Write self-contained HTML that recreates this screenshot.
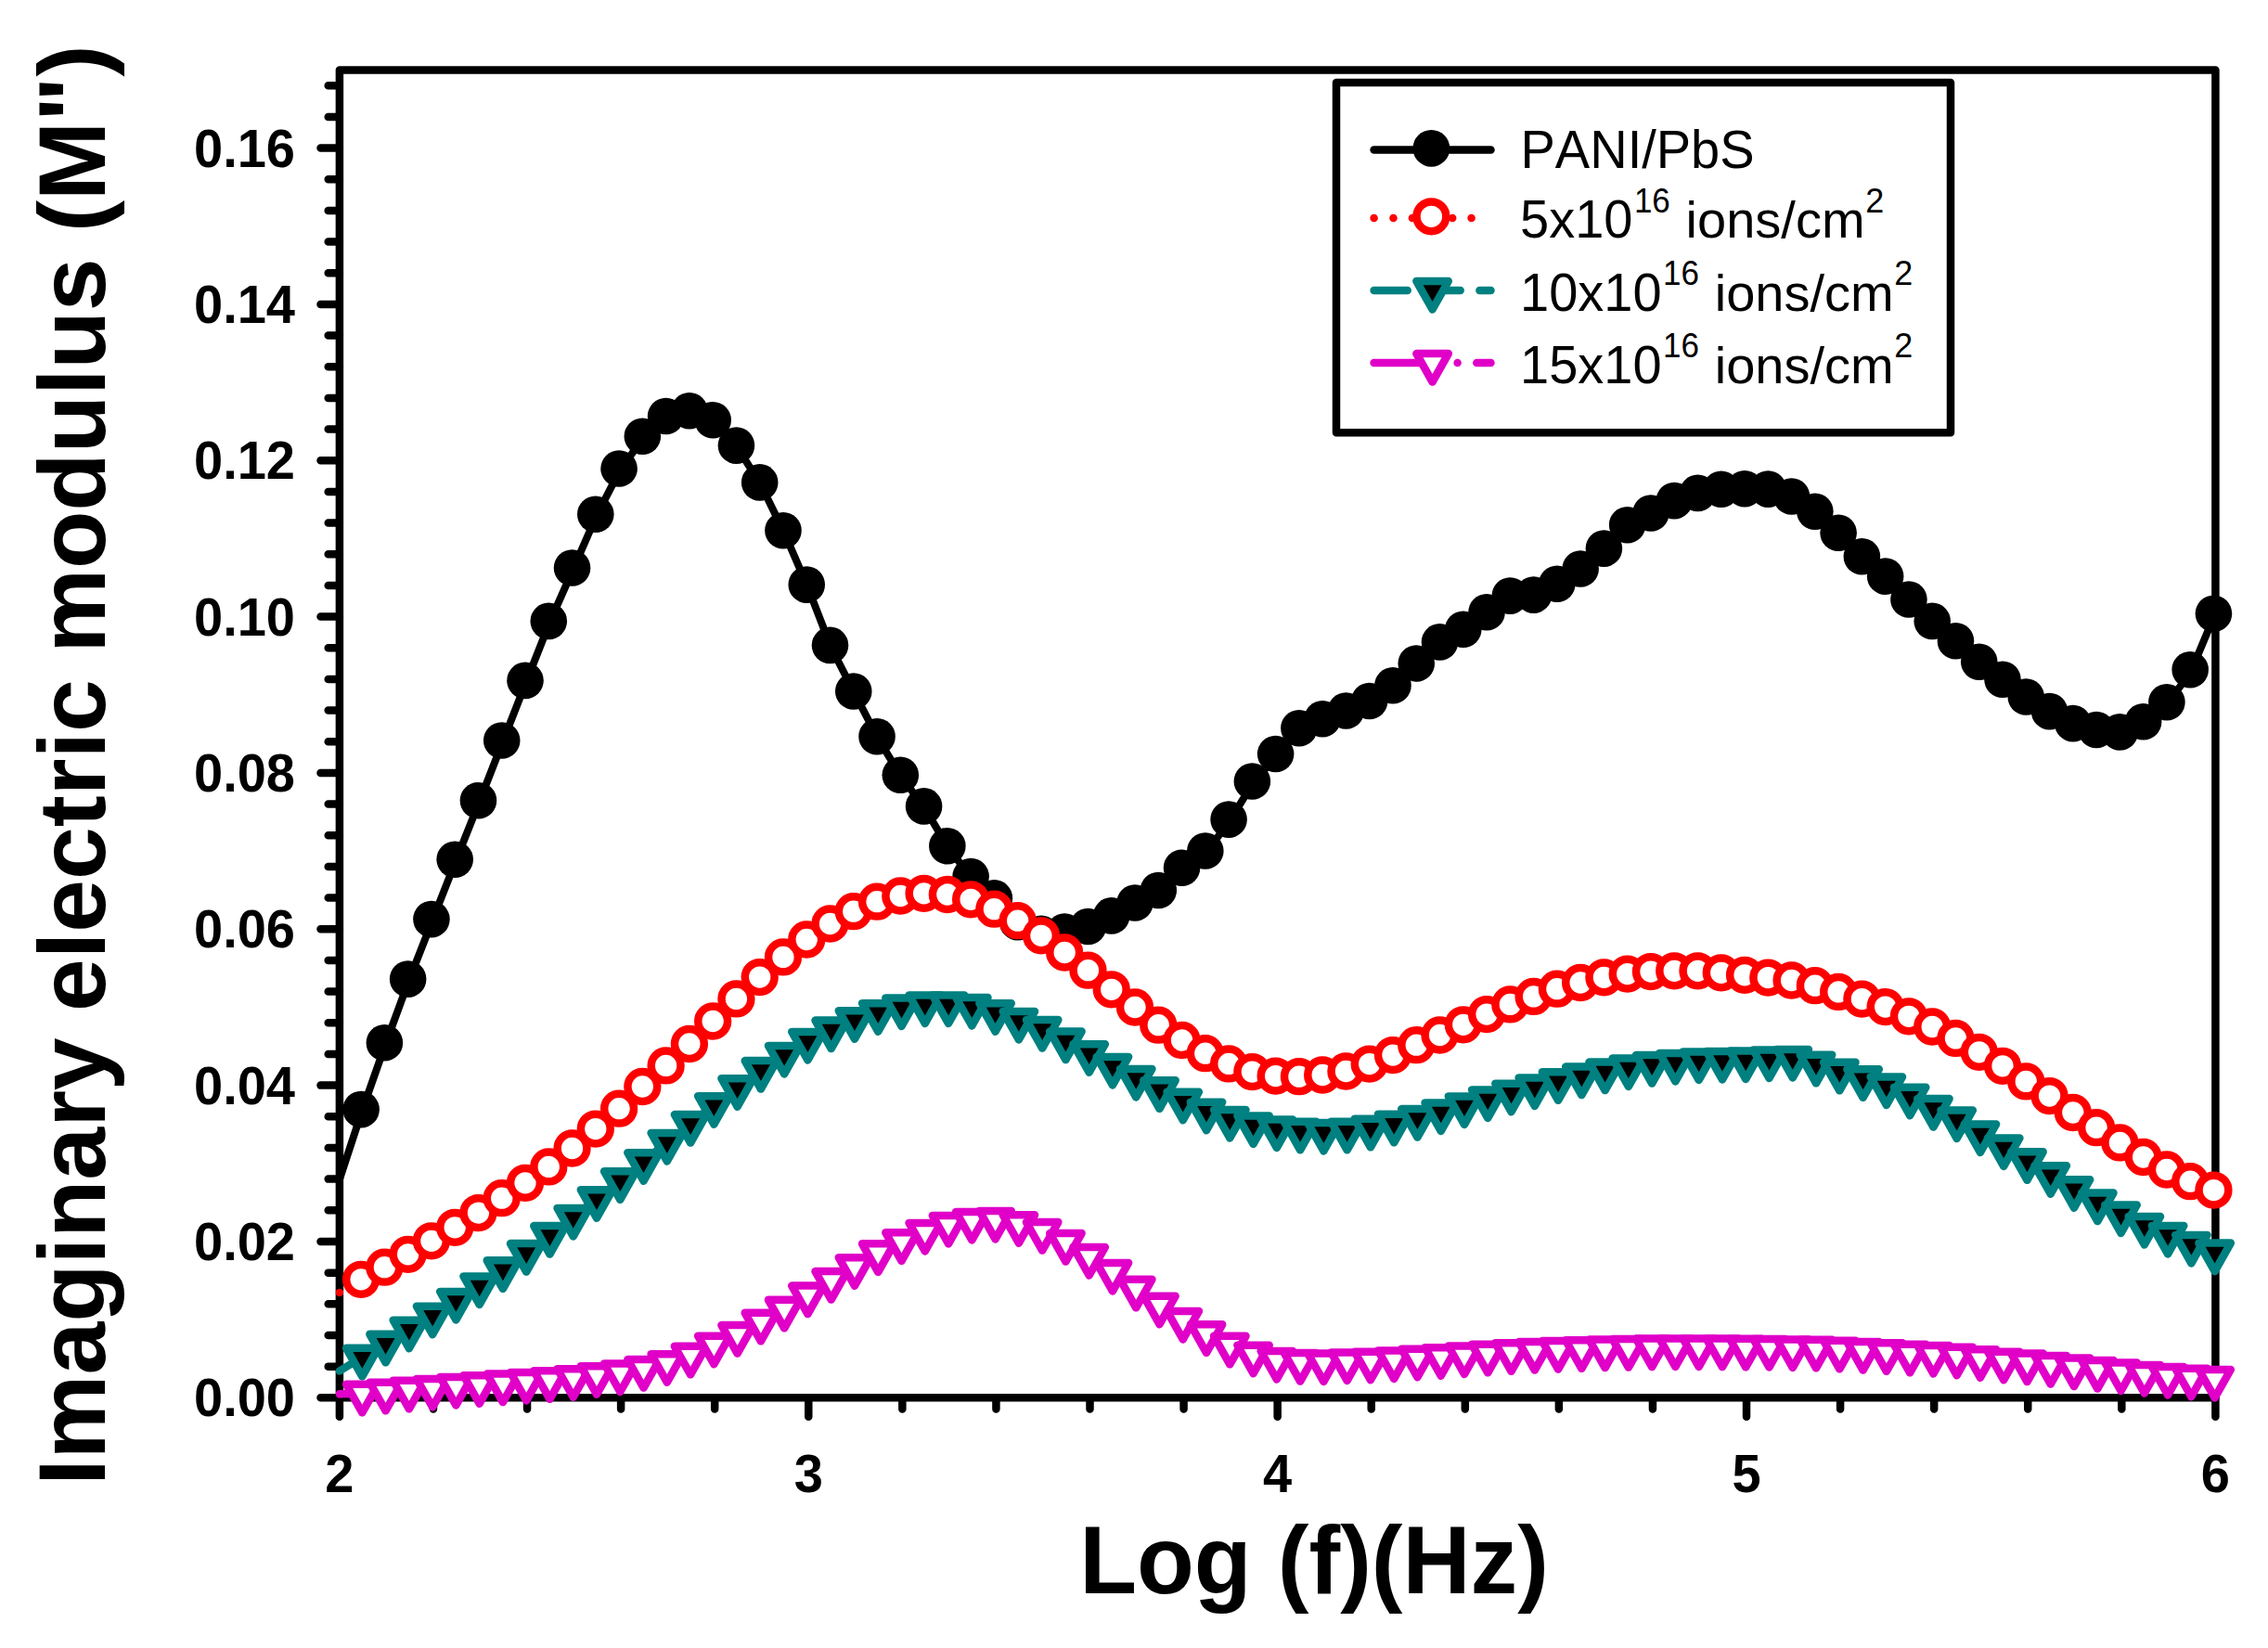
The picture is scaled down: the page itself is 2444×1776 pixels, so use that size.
<!DOCTYPE html>
<html lang="en"><head><meta charset="utf-8"><title>Imaginary electric modulus vs Log (f)</title>
<style>html,body{margin:0;padding:0;background:#fff}svg{display:block}text{font-family:"Liberation Sans",Arial,sans-serif;fill:#000;font-kerning:none}</style>
</head><body>
<svg width="2444" height="1776" viewBox="0 0 2444 1776">
<rect width="2444" height="1776" fill="#fff"/>
<g fill="none" stroke="#000" stroke-width="8.5" stroke-linecap="round" stroke-linejoin="round">
<rect x="365.9" y="75.4" width="2021.5" height="1430.9"/>
<path d="M365.9 1506.3h-20.4M365.9 1472.63h-12.2M365.9 1438.96h-12.2M365.9 1405.3h-12.2M365.9 1371.63h-12.2M365.9 1337.96h-20.4M365.9 1304.29h-12.2M365.9 1270.62h-12.2M365.9 1236.95h-12.2M365.9 1203.29h-12.2M365.9 1169.62h-20.4M365.9 1135.95h-12.2M365.9 1102.28h-12.2M365.9 1068.61h-12.2M365.9 1034.94h-12.2M365.9 1001.28h-20.4M365.9 967.61h-12.2M365.9 933.94h-12.2M365.9 900.27h-12.2M365.9 866.6h-12.2M365.9 832.94h-20.4M365.9 799.27h-12.2M365.9 765.6h-12.2M365.9 731.93h-12.2M365.9 698.26h-12.2M365.9 664.59h-20.4M365.9 630.93h-12.2M365.9 597.26h-12.2M365.9 563.59h-12.2M365.9 529.92h-12.2M365.9 496.25h-20.4M365.9 462.58h-12.2M365.9 428.92h-12.2M365.9 395.25h-12.2M365.9 361.58h-12.2M365.9 327.91h-20.4M365.9 294.24h-12.2M365.9 260.58h-12.2M365.9 226.91h-12.2M365.9 193.24h-12.2M365.9 159.57h-20.4M365.9 125.9h-12.2M365.9 92.23h-12.2M365.9 1506.3v20.4M466.98 1506.3v12.2M568.05 1506.3v12.2M669.12 1506.3v12.2M770.2 1506.3v12.2M871.27 1506.3v20.4M972.35 1506.3v12.2M1073.43 1506.3v12.2M1174.5 1506.3v12.2M1275.57 1506.3v12.2M1376.65 1506.3v20.4M1477.72 1506.3v12.2M1578.8 1506.3v12.2M1679.88 1506.3v12.2M1780.95 1506.3v12.2M1882.03 1506.3v20.4M1983.1 1506.3v12.2M2084.18 1506.3v12.2M2185.25 1506.3v12.2M2286.33 1506.3v12.2M2387.4 1506.3v20.4"/>
</g>
<g font-size="56" font-weight="bold">
<text transform="translate(318 1526.3) scale(1 1.04)" text-anchor="end">0.00</text>
<text transform="translate(318 1357.96) scale(1 1.04)" text-anchor="end">0.02</text>
<text transform="translate(318 1189.62) scale(1 1.04)" text-anchor="end">0.04</text>
<text transform="translate(318 1021.28) scale(1 1.04)" text-anchor="end">0.06</text>
<text transform="translate(318 852.94) scale(1 1.04)" text-anchor="end">0.08</text>
<text transform="translate(318 684.59) scale(1 1.04)" text-anchor="end">0.10</text>
<text transform="translate(318 516.25) scale(1 1.04)" text-anchor="end">0.12</text>
<text transform="translate(318 347.91) scale(1 1.04)" text-anchor="end">0.14</text>
<text transform="translate(318 179.57) scale(1 1.04)" text-anchor="end">0.16</text>
<text transform="translate(365.9 1607.7) scale(1 1.04)" text-anchor="middle">2</text>
<text transform="translate(871.27 1607.7) scale(1 1.04)" text-anchor="middle">3</text>
<text transform="translate(1376.65 1607.7) scale(1 1.04)" text-anchor="middle">4</text>
<text transform="translate(1882.03 1607.7) scale(1 1.04)" text-anchor="middle">5</text>
<text transform="translate(2387.4 1607.7) scale(1 1.04)" text-anchor="middle">6</text>
</g>
<g font-size="102" font-weight="bold">
<text font-size="101.2" transform="translate(1163.2 1717.2) scale(1 1.02)">Log (f)(Hz)</text>
<text font-size="102.15" transform="translate(113.4 1600.8) rotate(-90) scale(1 0.995)">Imaginary electric modulus (M&quot;)</text>
</g>
<path d="M365.9 1271L390 1197.4L415.27 1125.6L440.54 1056.9L465.81 992.4L491.08 928L516.35 864.5L541.62 799.8L566.89 735.2L592.16 671.2L617.43 613.8L642.7 556L667.97 506.8L693.24 472L718.51 450.3L743.78 444.6L769.05 454.5L794.32 481.9L819.59 521.7L844.86 573.5L870.13 631.9L895.4 697.2L920.67 746.8L945.94 795.5L971.21 837.1L996.48 870.7L1021.75 913.5L1047.02 946.3L1072.29 969.7L1097.56 995.4L1122.83 1008.2L1148.1 1005.9L1173.37 1000.3L1198.64 988.7L1223.91 974.8L1249.18 961.3L1274.45 937L1299.72 918.8L1324.99 884.9L1350.26 843.8L1375.53 814.3L1400.8 786.5L1426.07 776.5L1451.34 767.8L1476.61 757.3L1501.88 740.5L1527.15 716.8L1552.42 693.7L1577.69 680L1602.96 661.6L1628.23 643.9L1653.5 642.9L1678.77 631L1704.04 614.8L1729.31 592.9L1754.58 567.5L1779.85 554.8L1805.12 541.4L1830.39 533.2L1855.66 529L1880.93 528.5L1906.2 528.9L1931.47 536.8L1956.74 553L1982.01 576.1L2007.28 601.5L2032.55 622.9L2057.82 647.8L2083.09 671.2L2108.36 692.6L2133.63 715L2158.9 734.1L2184.17 752.8L2209.44 768.4L2234.71 781.4L2259.98 788.3L2285.25 790.7L2310.52 779.5L2335.79 758.5L2361.06 723.5L2386.33 663.1" fill="none" stroke="#000" stroke-width="8.0" stroke-linecap="round" stroke-linejoin="round"/>
<g fill="#000">
<circle cx="389.1" cy="1195.6" r="19.8"/>
<circle cx="414.37" cy="1123.8" r="19.8"/>
<circle cx="439.64" cy="1055.1" r="19.8"/>
<circle cx="464.91" cy="990.6" r="19.8"/>
<circle cx="490.18" cy="926.2" r="19.8"/>
<circle cx="515.45" cy="862.7" r="19.8"/>
<circle cx="540.72" cy="798" r="19.8"/>
<circle cx="565.99" cy="733.4" r="19.8"/>
<circle cx="591.26" cy="669.4" r="19.8"/>
<circle cx="616.53" cy="612" r="19.8"/>
<circle cx="641.8" cy="554.2" r="19.8"/>
<circle cx="667.07" cy="505" r="19.8"/>
<circle cx="692.34" cy="470.2" r="19.8"/>
<circle cx="717.61" cy="448.5" r="19.8"/>
<circle cx="742.88" cy="442.8" r="19.8"/>
<circle cx="768.15" cy="452.7" r="19.8"/>
<circle cx="793.42" cy="480.1" r="19.8"/>
<circle cx="818.69" cy="519.9" r="19.8"/>
<circle cx="843.96" cy="571.7" r="19.8"/>
<circle cx="869.23" cy="630.1" r="19.8"/>
<circle cx="894.5" cy="695.4" r="19.8"/>
<circle cx="919.77" cy="745" r="19.8"/>
<circle cx="945.04" cy="793.7" r="19.8"/>
<circle cx="970.31" cy="835.3" r="19.8"/>
<circle cx="995.58" cy="868.9" r="19.8"/>
<circle cx="1020.85" cy="911.7" r="19.8"/>
<circle cx="1046.12" cy="944.5" r="19.8"/>
<circle cx="1071.39" cy="967.9" r="19.8"/>
<circle cx="1096.66" cy="993.6" r="19.8"/>
<circle cx="1121.93" cy="1006.4" r="19.8"/>
<circle cx="1147.2" cy="1004.1" r="19.8"/>
<circle cx="1172.47" cy="998.5" r="19.8"/>
<circle cx="1197.74" cy="986.9" r="19.8"/>
<circle cx="1223.01" cy="973" r="19.8"/>
<circle cx="1248.28" cy="959.5" r="19.8"/>
<circle cx="1273.55" cy="935.2" r="19.8"/>
<circle cx="1298.82" cy="917" r="19.8"/>
<circle cx="1324.09" cy="883.1" r="19.8"/>
<circle cx="1349.36" cy="842" r="19.8"/>
<circle cx="1374.63" cy="812.5" r="19.8"/>
<circle cx="1399.9" cy="784.7" r="19.8"/>
<circle cx="1425.17" cy="774.7" r="19.8"/>
<circle cx="1450.44" cy="766" r="19.8"/>
<circle cx="1475.71" cy="755.5" r="19.8"/>
<circle cx="1500.98" cy="738.7" r="19.8"/>
<circle cx="1526.25" cy="715" r="19.8"/>
<circle cx="1551.52" cy="691.9" r="19.8"/>
<circle cx="1576.79" cy="678.2" r="19.8"/>
<circle cx="1602.06" cy="659.8" r="19.8"/>
<circle cx="1627.33" cy="642.1" r="19.8"/>
<circle cx="1652.6" cy="641.1" r="19.8"/>
<circle cx="1677.87" cy="629.2" r="19.8"/>
<circle cx="1703.14" cy="613" r="19.8"/>
<circle cx="1728.41" cy="591.1" r="19.8"/>
<circle cx="1753.68" cy="565.7" r="19.8"/>
<circle cx="1778.95" cy="553" r="19.8"/>
<circle cx="1804.22" cy="539.6" r="19.8"/>
<circle cx="1829.49" cy="531.4" r="19.8"/>
<circle cx="1854.76" cy="527.2" r="19.8"/>
<circle cx="1880.03" cy="526.7" r="19.8"/>
<circle cx="1905.3" cy="527.1" r="19.8"/>
<circle cx="1930.57" cy="535" r="19.8"/>
<circle cx="1955.84" cy="551.2" r="19.8"/>
<circle cx="1981.11" cy="574.3" r="19.8"/>
<circle cx="2006.38" cy="599.7" r="19.8"/>
<circle cx="2031.65" cy="621.1" r="19.8"/>
<circle cx="2056.92" cy="646" r="19.8"/>
<circle cx="2082.19" cy="669.4" r="19.8"/>
<circle cx="2107.46" cy="690.8" r="19.8"/>
<circle cx="2132.73" cy="713.2" r="19.8"/>
<circle cx="2158" cy="732.3" r="19.8"/>
<circle cx="2183.27" cy="751" r="19.8"/>
<circle cx="2208.54" cy="766.6" r="19.8"/>
<circle cx="2233.81" cy="779.6" r="19.8"/>
<circle cx="2259.08" cy="786.5" r="19.8"/>
<circle cx="2284.35" cy="788.9" r="19.8"/>
<circle cx="2309.62" cy="777.7" r="19.8"/>
<circle cx="2334.89" cy="756.7" r="19.8"/>
<circle cx="2360.16" cy="721.7" r="19.8"/>
<circle cx="2385.43" cy="661.3" r="19.8"/>
</g>
<path d="M365.9 1393L390 1380.6L415.27 1367.5L440.54 1353.6L465.81 1339.1L491.08 1324.6L516.35 1308.9L541.62 1293L566.89 1276.6L592.16 1259.2L617.43 1239.3L642.7 1218.4L667.97 1196.5L693.24 1172.8L718.51 1150.2L743.78 1126.8L769.05 1102.3L794.32 1078.2L819.59 1054.9L844.86 1033.2L870.13 1014.3L895.4 997.3L920.67 984L945.94 973.5L971.21 967.3L996.48 964.6L1021.75 965.8L1047.02 971.1L1072.29 981.5L1097.56 994L1122.83 1010.1L1148.1 1028.3L1173.37 1047.5L1198.64 1068.1L1223.91 1087.3L1249.18 1106.5L1274.45 1122.8L1299.72 1137L1324.99 1148.2L1350.26 1156.9L1375.53 1161.4L1400.8 1162L1426.07 1160.3L1451.34 1156.3L1476.61 1148.4L1501.88 1138.9L1527.15 1128L1552.42 1117.3L1577.69 1106.1L1602.96 1094.9L1628.23 1084.2L1653.5 1075.7L1678.77 1067.5L1704.04 1060.8L1729.31 1055.1L1754.58 1051.4L1779.85 1048.9L1805.12 1048.1L1830.39 1048.1L1855.66 1050.1L1880.93 1052.6L1906.2 1055.4L1931.47 1058.3L1956.74 1064L1982.01 1070.7L2007.28 1078.4L2032.55 1086.9L2057.82 1097.1L2083.09 1108.3L2108.36 1120.7L2133.63 1135.6L2158.9 1150.6L2184.17 1167.2L2209.44 1182.9L2234.71 1200.8L2259.98 1217L2285.25 1233.2L2310.52 1248.8L2335.79 1262.3L2361.06 1275L2386.33 1284.4" fill="none" stroke="#ff0000" stroke-width="8.5" stroke-linecap="round" stroke-linejoin="round" stroke-dasharray="0.01 20.7"/>
<g fill="#fff" stroke="#ff0000" stroke-width="8.5">
<circle cx="389.1" cy="1378.8" r="15.9"/>
<circle cx="414.37" cy="1365.7" r="15.9"/>
<circle cx="439.64" cy="1351.8" r="15.9"/>
<circle cx="464.91" cy="1337.3" r="15.9"/>
<circle cx="490.18" cy="1322.8" r="15.9"/>
<circle cx="515.45" cy="1307.1" r="15.9"/>
<circle cx="540.72" cy="1291.2" r="15.9"/>
<circle cx="565.99" cy="1274.8" r="15.9"/>
<circle cx="591.26" cy="1257.4" r="15.9"/>
<circle cx="616.53" cy="1237.5" r="15.9"/>
<circle cx="641.8" cy="1216.6" r="15.9"/>
<circle cx="667.07" cy="1194.7" r="15.9"/>
<circle cx="692.34" cy="1171" r="15.9"/>
<circle cx="717.61" cy="1148.4" r="15.9"/>
<circle cx="742.88" cy="1125" r="15.9"/>
<circle cx="768.15" cy="1100.5" r="15.9"/>
<circle cx="793.42" cy="1076.4" r="15.9"/>
<circle cx="818.69" cy="1053.1" r="15.9"/>
<circle cx="843.96" cy="1031.4" r="15.9"/>
<circle cx="869.23" cy="1012.5" r="15.9"/>
<circle cx="894.5" cy="995.5" r="15.9"/>
<circle cx="919.77" cy="982.2" r="15.9"/>
<circle cx="945.04" cy="971.7" r="15.9"/>
<circle cx="970.31" cy="965.5" r="15.9"/>
<circle cx="995.58" cy="962.8" r="15.9"/>
<circle cx="1020.85" cy="964" r="15.9"/>
<circle cx="1046.12" cy="969.3" r="15.9"/>
<circle cx="1071.39" cy="979.7" r="15.9"/>
<circle cx="1096.66" cy="992.2" r="15.9"/>
<circle cx="1121.93" cy="1008.3" r="15.9"/>
<circle cx="1147.2" cy="1026.5" r="15.9"/>
<circle cx="1172.47" cy="1045.7" r="15.9"/>
<circle cx="1197.74" cy="1066.3" r="15.9"/>
<circle cx="1223.01" cy="1085.5" r="15.9"/>
<circle cx="1248.28" cy="1104.7" r="15.9"/>
<circle cx="1273.55" cy="1121" r="15.9"/>
<circle cx="1298.82" cy="1135.2" r="15.9"/>
<circle cx="1324.09" cy="1146.4" r="15.9"/>
<circle cx="1349.36" cy="1155.1" r="15.9"/>
<circle cx="1374.63" cy="1159.6" r="15.9"/>
<circle cx="1399.9" cy="1160.2" r="15.9"/>
<circle cx="1425.17" cy="1158.5" r="15.9"/>
<circle cx="1450.44" cy="1154.5" r="15.9"/>
<circle cx="1475.71" cy="1146.6" r="15.9"/>
<circle cx="1500.98" cy="1137.1" r="15.9"/>
<circle cx="1526.25" cy="1126.2" r="15.9"/>
<circle cx="1551.52" cy="1115.5" r="15.9"/>
<circle cx="1576.79" cy="1104.3" r="15.9"/>
<circle cx="1602.06" cy="1093.1" r="15.9"/>
<circle cx="1627.33" cy="1082.4" r="15.9"/>
<circle cx="1652.6" cy="1073.9" r="15.9"/>
<circle cx="1677.87" cy="1065.7" r="15.9"/>
<circle cx="1703.14" cy="1059" r="15.9"/>
<circle cx="1728.41" cy="1053.3" r="15.9"/>
<circle cx="1753.68" cy="1049.6" r="15.9"/>
<circle cx="1778.95" cy="1047.1" r="15.9"/>
<circle cx="1804.22" cy="1046.3" r="15.9"/>
<circle cx="1829.49" cy="1046.3" r="15.9"/>
<circle cx="1854.76" cy="1048.3" r="15.9"/>
<circle cx="1880.03" cy="1050.8" r="15.9"/>
<circle cx="1905.3" cy="1053.6" r="15.9"/>
<circle cx="1930.57" cy="1056.5" r="15.9"/>
<circle cx="1955.84" cy="1062.2" r="15.9"/>
<circle cx="1981.11" cy="1068.9" r="15.9"/>
<circle cx="2006.38" cy="1076.6" r="15.9"/>
<circle cx="2031.65" cy="1085.1" r="15.9"/>
<circle cx="2056.92" cy="1095.3" r="15.9"/>
<circle cx="2082.19" cy="1106.5" r="15.9"/>
<circle cx="2107.46" cy="1118.9" r="15.9"/>
<circle cx="2132.73" cy="1133.8" r="15.9"/>
<circle cx="2158" cy="1148.8" r="15.9"/>
<circle cx="2183.27" cy="1165.4" r="15.9"/>
<circle cx="2208.54" cy="1181.1" r="15.9"/>
<circle cx="2233.81" cy="1199" r="15.9"/>
<circle cx="2259.08" cy="1215.2" r="15.9"/>
<circle cx="2284.35" cy="1231.4" r="15.9"/>
<circle cx="2309.62" cy="1247" r="15.9"/>
<circle cx="2334.89" cy="1260.5" r="15.9"/>
<circle cx="2360.16" cy="1273.2" r="15.9"/>
<circle cx="2385.43" cy="1282.6" r="15.9"/>
</g>
<path d="M365.9 1477.5L390 1462.7L415.27 1447.7L440.54 1432.6L465.81 1417.6L491.08 1401.8L516.35 1385.3L541.62 1368.2L566.89 1350L592.16 1331L617.43 1311.8L642.7 1292.1L667.97 1272.2L693.24 1252.1L718.51 1230.9L743.78 1211L769.05 1191.1L794.32 1172.1L819.59 1153L844.86 1136.8L870.13 1121.9L895.4 1109.5L920.67 1099.1L945.94 1091.1L971.21 1085.4L996.48 1082.4L1021.75 1082.4L1047.02 1084.9L1072.29 1091.1L1097.56 1099.8L1122.83 1109L1148.1 1121.5L1173.37 1135.1L1198.64 1148.8L1223.91 1161.8L1249.18 1174.2L1274.45 1186.6L1299.72 1197.6L1324.99 1205.9L1350.26 1212.3L1375.53 1216.3L1400.8 1218.7L1426.07 1219.9L1451.34 1218.7L1476.61 1215.7L1501.88 1210.7L1527.15 1205L1552.42 1198.3L1577.69 1191.3L1602.96 1184.3L1628.23 1177.6L1653.5 1171.4L1678.77 1165.2L1704.04 1159.5L1729.31 1154.5L1754.58 1150.3L1779.85 1147L1805.12 1144.8L1830.39 1143.3L1855.66 1142.8L1880.93 1142.3L1906.2 1141.4L1931.47 1140.8L1956.74 1146.7L1982.01 1154.7L2007.28 1162.2L2032.55 1170.4L2057.82 1181.6L2083.09 1194L2108.36 1206.4L2133.63 1221.4L2158.9 1236.3L2184.17 1251.2L2209.44 1266.1L2234.71 1281.1L2259.98 1295.5L2285.25 1308.4L2310.52 1320.9L2335.79 1330.8L2361.06 1340.8L2386.33 1349.5" fill="none" stroke="#008080" stroke-width="8.5" stroke-linecap="round" stroke-linejoin="round" stroke-dasharray="35.3 22.4"/>
<g fill="#000" stroke="#008080" stroke-width="8.5" stroke-linejoin="round">
<path d="M373.1 1452.8h34.4L390.3 1483.3z"/>
<path d="M398.37 1437.8h34.4L415.57 1468.3z"/>
<path d="M423.64 1422.7h34.4L440.84 1453.2z"/>
<path d="M448.91 1407.7h34.4L466.11 1438.2z"/>
<path d="M474.18 1391.9h34.4L491.38 1422.4z"/>
<path d="M499.45 1375.4h34.4L516.65 1405.9z"/>
<path d="M524.72 1358.3h34.4L541.92 1388.8z"/>
<path d="M549.99 1340.1h34.4L567.19 1370.6z"/>
<path d="M575.26 1321.1h34.4L592.46 1351.6z"/>
<path d="M600.53 1301.9h34.4L617.73 1332.4z"/>
<path d="M625.8 1282.2h34.4L643 1312.7z"/>
<path d="M651.07 1262.3h34.4L668.27 1292.8z"/>
<path d="M676.34 1242.2h34.4L693.54 1272.7z"/>
<path d="M701.61 1221h34.4L718.81 1251.5z"/>
<path d="M726.88 1201.1h34.4L744.08 1231.6z"/>
<path d="M752.15 1181.2h34.4L769.35 1211.7z"/>
<path d="M777.42 1162.2h34.4L794.62 1192.7z"/>
<path d="M802.69 1143.1h34.4L819.89 1173.6z"/>
<path d="M827.96 1126.9h34.4L845.16 1157.4z"/>
<path d="M853.23 1112h34.4L870.43 1142.5z"/>
<path d="M878.5 1099.6h34.4L895.7 1130.1z"/>
<path d="M903.77 1089.2h34.4L920.97 1119.7z"/>
<path d="M929.04 1081.2h34.4L946.24 1111.7z"/>
<path d="M954.31 1075.5h34.4L971.51 1106z"/>
<path d="M979.58 1072.5h34.4L996.78 1103z"/>
<path d="M1004.85 1072.5h34.4L1022.05 1103z"/>
<path d="M1030.12 1075h34.4L1047.32 1105.5z"/>
<path d="M1055.39 1081.2h34.4L1072.59 1111.7z"/>
<path d="M1080.66 1089.9h34.4L1097.86 1120.4z"/>
<path d="M1105.93 1099.1h34.4L1123.13 1129.6z"/>
<path d="M1131.2 1111.6h34.4L1148.4 1142.1z"/>
<path d="M1156.47 1125.2h34.4L1173.67 1155.7z"/>
<path d="M1181.74 1138.9h34.4L1198.94 1169.4z"/>
<path d="M1207.01 1151.9h34.4L1224.21 1182.4z"/>
<path d="M1232.28 1164.3h34.4L1249.48 1194.8z"/>
<path d="M1257.55 1176.7h34.4L1274.75 1207.2z"/>
<path d="M1282.82 1187.7h34.4L1300.02 1218.2z"/>
<path d="M1308.09 1196h34.4L1325.29 1226.5z"/>
<path d="M1333.36 1202.4h34.4L1350.56 1232.9z"/>
<path d="M1358.63 1206.4h34.4L1375.83 1236.9z"/>
<path d="M1383.9 1208.8h34.4L1401.1 1239.3z"/>
<path d="M1409.17 1210h34.4L1426.37 1240.5z"/>
<path d="M1434.44 1208.8h34.4L1451.64 1239.3z"/>
<path d="M1459.71 1205.8h34.4L1476.91 1236.3z"/>
<path d="M1484.98 1200.8h34.4L1502.18 1231.3z"/>
<path d="M1510.25 1195.1h34.4L1527.45 1225.6z"/>
<path d="M1535.52 1188.4h34.4L1552.72 1218.9z"/>
<path d="M1560.79 1181.4h34.4L1577.99 1211.9z"/>
<path d="M1586.06 1174.4h34.4L1603.26 1204.9z"/>
<path d="M1611.33 1167.7h34.4L1628.53 1198.2z"/>
<path d="M1636.6 1161.5h34.4L1653.8 1192z"/>
<path d="M1661.87 1155.3h34.4L1679.07 1185.8z"/>
<path d="M1687.14 1149.6h34.4L1704.34 1180.1z"/>
<path d="M1712.41 1144.6h34.4L1729.61 1175.1z"/>
<path d="M1737.68 1140.4h34.4L1754.88 1170.9z"/>
<path d="M1762.95 1137.1h34.4L1780.15 1167.6z"/>
<path d="M1788.22 1134.9h34.4L1805.42 1165.4z"/>
<path d="M1813.49 1133.4h34.4L1830.69 1163.9z"/>
<path d="M1838.76 1132.9h34.4L1855.96 1163.4z"/>
<path d="M1864.03 1132.4h34.4L1881.23 1162.9z"/>
<path d="M1889.3 1131.5h34.4L1906.5 1162z"/>
<path d="M1914.57 1130.9h34.4L1931.77 1161.4z"/>
<path d="M1939.84 1136.8h34.4L1957.04 1167.3z"/>
<path d="M1965.11 1144.8h34.4L1982.31 1175.3z"/>
<path d="M1990.38 1152.3h34.4L2007.58 1182.8z"/>
<path d="M2015.65 1160.5h34.4L2032.85 1191z"/>
<path d="M2040.92 1171.7h34.4L2058.12 1202.2z"/>
<path d="M2066.19 1184.1h34.4L2083.39 1214.6z"/>
<path d="M2091.46 1196.5h34.4L2108.66 1227z"/>
<path d="M2116.73 1211.5h34.4L2133.93 1242z"/>
<path d="M2142 1226.4h34.4L2159.2 1256.9z"/>
<path d="M2167.27 1241.3h34.4L2184.47 1271.8z"/>
<path d="M2192.54 1256.2h34.4L2209.74 1286.7z"/>
<path d="M2217.81 1271.2h34.4L2235.01 1301.7z"/>
<path d="M2243.08 1285.6h34.4L2260.28 1316.1z"/>
<path d="M2268.35 1298.5h34.4L2285.55 1329z"/>
<path d="M2293.62 1311h34.4L2310.82 1341.5z"/>
<path d="M2318.89 1320.9h34.4L2336.09 1351.4z"/>
<path d="M2344.16 1330.9h34.4L2361.36 1361.4z"/>
<path d="M2369.43 1339.6h34.4L2386.63 1370.1z"/>
</g>
<path d="M365.9 1502.3L390 1501.7L415.27 1499.7L440.54 1497.7L465.81 1495.8L491.08 1493.8L516.35 1492.1L541.62 1490.5L566.89 1488.8L592.16 1487.2L617.43 1485.1L642.7 1482.1L667.97 1479.4L693.24 1475L718.51 1469.1L743.78 1460.7L769.05 1449.6L794.32 1438L819.59 1424.7L844.86 1410.7L870.13 1395.5L895.4 1380L920.67 1365.1L945.94 1350.2L971.21 1338.2L996.48 1327.8L1021.75 1319.8L1047.02 1315.8L1072.29 1314.8L1097.56 1319.1L1122.83 1327L1148.1 1339L1173.37 1353.9L1198.64 1370.8L1223.91 1388.7L1249.18 1406.6L1274.45 1422.8L1299.72 1437.2L1324.99 1449.7L1350.26 1459.6L1375.53 1465.9L1400.8 1468L1426.07 1468.3L1451.34 1467.3L1476.61 1466.6L1501.88 1465.3L1527.15 1463.6L1552.42 1462.1L1577.69 1460.4L1602.96 1458.7L1628.23 1457.2L1653.5 1456L1678.77 1455L1704.04 1454.2L1729.31 1453.5L1754.58 1453L1779.85 1452.5L1805.12 1452.3L1830.39 1452.3L1855.66 1452.5L1880.93 1452.7L1906.2 1452.8L1931.47 1453.3L1956.74 1453.7L1982.01 1454.7L2007.28 1456L2032.55 1457.2L2057.82 1458.7L2083.09 1459.9L2108.36 1461.6L2133.63 1464.1L2158.9 1466.6L2184.17 1468.5L2209.44 1471L2234.71 1473.5L2259.98 1476L2285.25 1478.4L2310.52 1480.9L2335.79 1482.9L2361.06 1484.6L2386.33 1485.8" fill="none" stroke="#e000c8" stroke-width="8.5" stroke-linecap="round" stroke-linejoin="round" stroke-dasharray="35.3 22.4 0.01 22.4"/>
<g fill="#fff" stroke="#e000c8" stroke-width="8.5" stroke-linejoin="round">
<path d="M373.1 1491.8h34.4L390.3 1522.3z"/>
<path d="M398.37 1489.8h34.4L415.57 1520.3z"/>
<path d="M423.64 1487.8h34.4L440.84 1518.3z"/>
<path d="M448.91 1485.9h34.4L466.11 1516.4z"/>
<path d="M474.18 1483.9h34.4L491.38 1514.4z"/>
<path d="M499.45 1482.2h34.4L516.65 1512.7z"/>
<path d="M524.72 1480.6h34.4L541.92 1511.1z"/>
<path d="M549.99 1478.9h34.4L567.19 1509.4z"/>
<path d="M575.26 1477.3h34.4L592.46 1507.8z"/>
<path d="M600.53 1475.2h34.4L617.73 1505.7z"/>
<path d="M625.8 1472.2h34.4L643 1502.7z"/>
<path d="M651.07 1469.5h34.4L668.27 1500z"/>
<path d="M676.34 1465.1h34.4L693.54 1495.6z"/>
<path d="M701.61 1459.2h34.4L718.81 1489.7z"/>
<path d="M726.88 1450.8h34.4L744.08 1481.3z"/>
<path d="M752.15 1439.7h34.4L769.35 1470.2z"/>
<path d="M777.42 1428.1h34.4L794.62 1458.6z"/>
<path d="M802.69 1414.8h34.4L819.89 1445.3z"/>
<path d="M827.96 1400.8h34.4L845.16 1431.3z"/>
<path d="M853.23 1385.6h34.4L870.43 1416.1z"/>
<path d="M878.5 1370.1h34.4L895.7 1400.6z"/>
<path d="M903.77 1355.2h34.4L920.97 1385.7z"/>
<path d="M929.04 1340.3h34.4L946.24 1370.8z"/>
<path d="M954.31 1328.3h34.4L971.51 1358.8z"/>
<path d="M979.58 1317.9h34.4L996.78 1348.4z"/>
<path d="M1004.85 1309.9h34.4L1022.05 1340.4z"/>
<path d="M1030.12 1305.9h34.4L1047.32 1336.4z"/>
<path d="M1055.39 1304.9h34.4L1072.59 1335.4z"/>
<path d="M1080.66 1309.2h34.4L1097.86 1339.7z"/>
<path d="M1105.93 1317.1h34.4L1123.13 1347.6z"/>
<path d="M1131.2 1329.1h34.4L1148.4 1359.6z"/>
<path d="M1156.47 1344h34.4L1173.67 1374.5z"/>
<path d="M1181.74 1360.9h34.4L1198.94 1391.4z"/>
<path d="M1207.01 1378.8h34.4L1224.21 1409.3z"/>
<path d="M1232.28 1396.7h34.4L1249.48 1427.2z"/>
<path d="M1257.55 1412.9h34.4L1274.75 1443.4z"/>
<path d="M1282.82 1427.3h34.4L1300.02 1457.8z"/>
<path d="M1308.09 1439.8h34.4L1325.29 1470.3z"/>
<path d="M1333.36 1449.7h34.4L1350.56 1480.2z"/>
<path d="M1358.63 1456h34.4L1375.83 1486.5z"/>
<path d="M1383.9 1458.1h34.4L1401.1 1488.6z"/>
<path d="M1409.17 1458.4h34.4L1426.37 1488.9z"/>
<path d="M1434.44 1457.4h34.4L1451.64 1487.9z"/>
<path d="M1459.71 1456.7h34.4L1476.91 1487.2z"/>
<path d="M1484.98 1455.4h34.4L1502.18 1485.9z"/>
<path d="M1510.25 1453.7h34.4L1527.45 1484.2z"/>
<path d="M1535.52 1452.2h34.4L1552.72 1482.7z"/>
<path d="M1560.79 1450.5h34.4L1577.99 1481z"/>
<path d="M1586.06 1448.8h34.4L1603.26 1479.3z"/>
<path d="M1611.33 1447.3h34.4L1628.53 1477.8z"/>
<path d="M1636.6 1446.1h34.4L1653.8 1476.6z"/>
<path d="M1661.87 1445.1h34.4L1679.07 1475.6z"/>
<path d="M1687.14 1444.3h34.4L1704.34 1474.8z"/>
<path d="M1712.41 1443.6h34.4L1729.61 1474.1z"/>
<path d="M1737.68 1443.1h34.4L1754.88 1473.6z"/>
<path d="M1762.95 1442.6h34.4L1780.15 1473.1z"/>
<path d="M1788.22 1442.4h34.4L1805.42 1472.9z"/>
<path d="M1813.49 1442.4h34.4L1830.69 1472.9z"/>
<path d="M1838.76 1442.6h34.4L1855.96 1473.1z"/>
<path d="M1864.03 1442.8h34.4L1881.23 1473.3z"/>
<path d="M1889.3 1442.9h34.4L1906.5 1473.4z"/>
<path d="M1914.57 1443.4h34.4L1931.77 1473.9z"/>
<path d="M1939.84 1443.8h34.4L1957.04 1474.3z"/>
<path d="M1965.11 1444.8h34.4L1982.31 1475.3z"/>
<path d="M1990.38 1446.1h34.4L2007.58 1476.6z"/>
<path d="M2015.65 1447.3h34.4L2032.85 1477.8z"/>
<path d="M2040.92 1448.8h34.4L2058.12 1479.3z"/>
<path d="M2066.19 1450h34.4L2083.39 1480.5z"/>
<path d="M2091.46 1451.7h34.4L2108.66 1482.2z"/>
<path d="M2116.73 1454.2h34.4L2133.93 1484.7z"/>
<path d="M2142 1456.7h34.4L2159.2 1487.2z"/>
<path d="M2167.27 1458.6h34.4L2184.47 1489.1z"/>
<path d="M2192.54 1461.1h34.4L2209.74 1491.6z"/>
<path d="M2217.81 1463.6h34.4L2235.01 1494.1z"/>
<path d="M2243.08 1466.1h34.4L2260.28 1496.6z"/>
<path d="M2268.35 1468.5h34.4L2285.55 1499z"/>
<path d="M2293.62 1471h34.4L2310.82 1501.5z"/>
<path d="M2318.89 1473h34.4L2336.09 1503.5z"/>
<path d="M2344.16 1474.7h34.4L2361.36 1505.2z"/>
<path d="M2369.43 1475.9h34.4L2386.63 1506.4z"/>
</g>
<rect x="1440" y="89" width="662" height="377.3" fill="#fff" stroke="#000" stroke-width="8.5" stroke-linejoin="round"/>
<g fill="none" stroke-width="8.5" stroke-linecap="round" stroke-linejoin="round">
<path d="M1480.6 161.5H1606.5" stroke="#000"/>
<circle cx="1542.4" cy="159.8" r="19.9" fill="#000" stroke="none"/>
<path d="M1480.6 235h.01M1501.5 235h.01M1521.9 235h.01M1565.2 235h.01M1585.6 235h.01" stroke="#ff0000"/>
<circle cx="1542.4" cy="233.3" r="15.9" fill="#fff" stroke="#ff0000"/>
<path d="M1480.6 312.9H1516.7M1545 312.9H1573.7M1594.4 312.9H1606.5" stroke="#008080"/>
<path d="M1526.4 303h34.4L1543.6 333.5z" fill="#000" stroke="#008080"/>
<path d="M1480.6 391H1530M1570.6 391h.01M1591.3 391H1606.5" stroke="#e000c8"/>
<path d="M1526.4 381.1h34.4L1543.6 411.6z" fill="#fff" stroke="#e000c8"/>
</g>
<g font-size="56">
<text transform="translate(1638.5 180.7) scale(1 1.04)">PANI/PbS</text>
<text transform="translate(1638 256.4) scale(1 1.04)">5x10</text>
<text font-size="35" transform="translate(1760.91 228.7) scale(1 1.04)">16</text>
<text transform="translate(1816.6 256.4)">ions/cm</text>
<text font-size="36" transform="translate(2010.22 228.7) scale(1 1.04)">2</text>
<text transform="translate(1638 334.5) scale(1 1.04)">10x10</text>
<text font-size="35" transform="translate(1792.04 306.8) scale(1 1.04)">16</text>
<text transform="translate(1847.73 334.5)">ions/cm</text>
<text font-size="36" transform="translate(2041.35 306.8) scale(1 1.04)">2</text>
<text transform="translate(1638 412.6) scale(1 1.04)">15x10</text>
<text font-size="35" transform="translate(1792.04 384.9) scale(1 1.04)">16</text>
<text transform="translate(1847.73 412.6)">ions/cm</text>
<text font-size="36" transform="translate(2041.35 384.9) scale(1 1.04)">2</text>
</g>
</svg>
</body></html>
